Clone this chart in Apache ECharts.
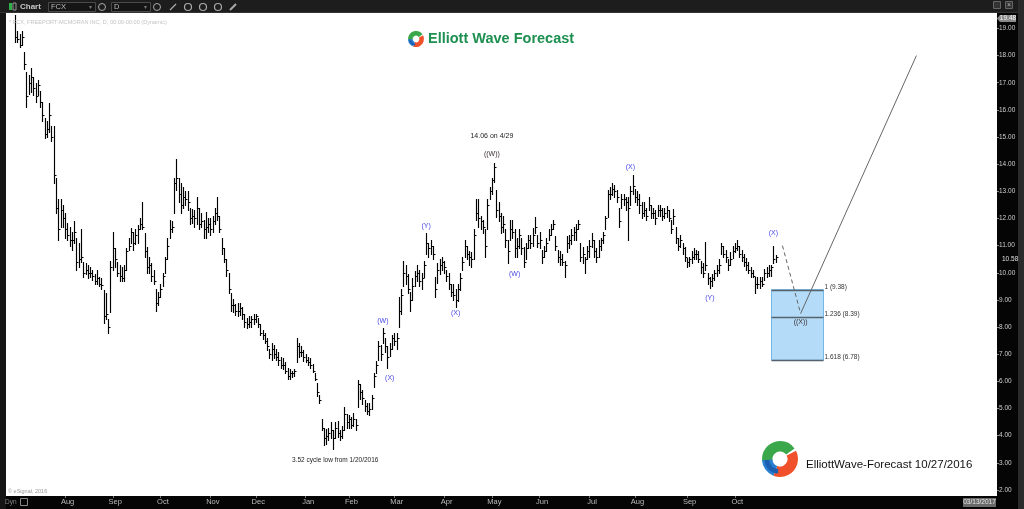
<!DOCTYPE html>
<html><head><meta charset="utf-8">
<script src="https://cdn.jsdelivr.net/npm/echarts@6/dist/echarts.min.js"></script>
<style>html,body{margin:0;padding:0;background:#0a0a0a;}#c{width:1024px;height:509px;}</style>
</head><body><div id="c"></div>
<script>
// ---- data (FCX daily) ----
const START_DATE = '2015-07-01';
const TOTAL_SLOTS = 433;
const HOLIDAYS = ['2015-07-03','2015-09-07','2015-11-26','2015-12-25','2016-01-01','2016-01-18','2016-02-15','2016-03-25','2016-05-30','2016-07-04','2016-09-05','2016-11-24','2016-12-26','2017-01-02','2017-01-16','2017-02-20'];
const MONTHS = ['Jan','Feb','Mar','Apr','May','Jun','Jul','Aug','Sep','Oct','Nov','Dec'];
const Y_TICKS = [2,3,4,5,6,7,8,9,10,11,12,13,14,15,16,17,18,19];

const highs = [
19.5,18.9,18.8,18.9,18.15,17.4,17.3,17.55,17.2,17.0,
17.1,16.7,16.3,15.7,15.6,16.25,15.4,15.4,13.5,12.7,
12.7,12.5,12.2,11.85,11.7,11.5,11.9,11.3,11.1,11.6,
10.4,10.35,10.3,10.2,10.1,9.95,10.1,9.85,9.8,9.35,
9.25,8.3,10.45,11.5,10.9,10.4,10.3,10.2,10.3,10.9,
11.3,11.65,11.5,11.6,11.75,12.0,12.6,11.45,10.95,10.6,
10.35,10.1,9.4,9.3,9.6,10.0,10.6,11.3,11.95,11.9,
13.5,14.2,13.5,13.3,13.15,13.0,13.0,12.4,12.35,12.3,
12.8,12.4,12.2,11.95,12.25,12.0,12.0,12.1,12.4,12.8,
12.1,11.3,10.9,10.5,10.0,9.25,9.05,8.85,8.9,8.9,
8.75,8.5,8.35,8.4,8.4,8.5,8.5,8.35,8.1,7.9,
7.8,7.6,7.2,7.4,7.35,7.2,7.1,6.9,6.85,6.7,
6.5,6.45,6.4,6.45,7.6,7.4,7.3,7.15,7.0,6.9,
6.85,6.65,6.3,5.95,5.5,4.6,4.3,4.25,4.3,4.5,
4.2,4.5,4.55,4.2,4.35,5.05,4.8,4.75,4.7,4.85,
4.6,6.05,5.9,5.7,5.3,5.2,5.2,5.5,6.3,6.75,
7.5,7.35,7.95,7.6,7.3,7.4,7.7,7.8,7.8,9.1,
9.4,10.45,10.3,9.95,9.3,9.8,10.05,10.3,10.1,10.0,
10.45,11.45,11.1,11.2,11.0,9.85,10.36,10.5,10.6,10.45,
10.1,10.0,9.6,9.6,9.4,9.6,10.0,10.6,11.2,11.0,
10.8,10.75,11.6,12.7,12.7,12.1,11.95,11.6,12.7,13.15,
13.5,14.06,13.05,12.6,12.2,12.1,11.6,11.2,11.95,11.95,
11.6,11.3,11.6,11.3,10.95,11.1,11.4,11.4,11.65,12.05,
11.4,11.5,10.85,11.0,11.3,11.6,11.8,11.95,11.35,10.85,
10.8,10.7,10.45,11.35,11.4,11.6,11.7,11.8,11.95,11.1,
10.95,10.6,11.0,11.2,11.45,11.2,10.9,11.2,11.3,11.5,
12.1,13.05,13.15,13.3,13.25,13.05,12.4,12.9,12.9,12.8,
12.8,13.2,13.6,13.1,13.0,12.9,12.6,12.6,12.4,12.8,
12.5,12.4,12.3,12.5,12.5,12.4,12.4,12.45,12.3,11.95,
12.35,11.7,11.3,11.4,11.1,10.95,10.55,10.6,10.8,10.9,
10.85,10.8,10.45,10.35,11.15,10.0,9.85,9.95,10.1,10.3,
10.5,11.1,11.0,10.85,10.5,10.75,11.0,11.1,11.2,11.0,
10.85,10.7,10.55,10.4,10.2,10.1,9.85,9.85,9.85,9.85,
10.15,10.2,10.3,10.3,11.0,10.65];
const lows = [
18.5,18.5,18.3,18.4,17.5,16.1,16.6,16.65,16.55,16.3,
16.55,16.1,15.6,14.95,15.0,15.2,14.85,13.3,12.2,11.2,
11.7,11.7,11.3,11.2,11.0,10.85,11.1,10.1,10.2,10.4,
9.85,9.95,9.8,9.85,9.75,9.6,9.6,9.5,9.4,8.15,
8.3,7.78,8.55,10.1,10.2,9.9,9.7,9.7,9.7,10.1,
10.85,11.1,10.85,11.05,11.1,11.6,11.6,10.6,10.0,10.0,
9.7,9.6,8.6,8.8,9.1,9.5,10.0,10.5,11.3,11.5,
12.2,13.05,12.6,12.2,12.4,12.5,12.3,11.8,11.85,11.7,
11.8,11.6,11.7,11.3,11.3,11.5,11.4,11.5,11.8,11.95,
11.5,10.7,10.4,9.9,9.25,8.6,8.55,8.45,8.4,8.45,
8.3,8.0,7.95,8.0,8.0,8.1,8.2,8.0,7.7,7.55,
7.4,7.15,6.85,6.8,6.85,6.8,6.6,6.5,6.45,6.3,
6.1,6.1,6.15,6.2,6.7,6.9,6.95,6.75,6.7,6.6,
6.5,6.35,6.05,5.45,5.2,4.2,3.65,3.7,3.85,3.9,
3.52,3.9,3.95,3.85,3.9,4.2,4.3,4.3,4.3,4.35,
4.2,5.05,5.35,5.15,4.9,4.8,4.75,5.0,5.8,6.3,
6.8,6.8,7.4,7.1,6.5,6.95,7.2,7.35,7.2,8.0,
8.5,9.5,9.6,9.25,8.6,9.0,9.5,9.7,9.5,9.4,
9.85,10.7,10.6,10.7,10.5,9.1,9.62,9.95,10.1,10.0,
9.7,9.4,9.15,9.0,8.75,8.95,9.35,10.1,10.6,10.5,
10.3,10.2,10.5,11.95,11.7,11.6,11.45,10.6,11.6,12.7,
12.9,13.35,12.05,11.9,11.45,11.5,10.95,10.35,11.2,11.3,
10.6,10.6,10.9,10.7,10.2,10.5,10.9,10.9,11.0,11.45,
10.95,10.9,10.35,10.6,10.8,11.2,11.4,11.6,10.85,10.4,
10.3,10.3,9.85,10.75,10.9,11.05,11.2,11.2,11.6,10.45,
10.35,10.0,10.5,10.6,10.95,10.6,10.4,10.6,10.85,11.1,
11.6,12.05,12.7,12.85,12.8,12.6,11.7,12.4,12.5,12.3,
11.2,12.5,12.9,12.6,12.5,12.2,12.0,12.1,11.95,12.3,
12.0,12.0,11.8,12.1,12.1,11.95,12.0,12.05,11.9,11.45,
11.8,11.1,10.85,10.95,10.7,10.45,10.2,10.25,10.35,10.5,
10.5,10.4,10.0,9.85,10.1,9.6,9.44,9.5,9.75,9.9,
10.0,10.7,10.6,10.4,10.1,10.3,10.55,10.75,10.85,10.6,
10.45,10.25,10.1,10.0,9.85,9.85,9.25,9.45,9.45,9.5,
9.75,9.85,9.9,9.9,10.35,10.4];
const closes = [
18.7,18.6,18.4,18.7,17.7,16.5,17.0,17.2,16.8,16.5,
16.9,16.3,15.8,15.1,15.3,15.8,15.0,13.6,12.4,11.6,
12.3,12.0,11.6,11.4,11.2,11.2,11.5,10.4,10.5,10.6,
10.0,10.1,10.0,10.0,9.9,9.7,9.8,9.6,9.55,8.4,
8.5,8.0,10.2,10.9,10.5,10.0,9.9,9.8,10.1,10.8,
11.0,11.5,11.1,11.4,11.6,11.8,11.7,10.8,10.2,10.3,
9.9,9.7,8.9,9.1,9.4,9.9,10.5,11.0,11.6,11.7,
13.3,13.5,12.9,12.5,12.8,12.7,12.6,12.0,12.1,12.0,
12.4,11.8,11.9,11.6,11.7,11.8,11.6,11.9,12.2,12.1,
11.6,10.9,10.5,10.1,9.4,8.8,8.8,8.6,8.6,8.7,
8.5,8.2,8.1,8.2,8.3,8.3,8.4,8.1,7.8,7.7,
7.5,7.3,7.0,7.2,7.0,6.9,6.8,6.6,6.6,6.4,
6.2,6.3,6.3,6.4,7.3,7.1,7.1,6.9,6.8,6.7,
6.6,6.4,6.1,5.6,5.3,4.3,3.9,4.0,4.1,4.2,
3.9,4.3,4.1,4.0,4.2,4.8,4.5,4.6,4.4,4.6,
4.4,5.9,5.6,5.4,5.1,4.9,5.0,5.4,6.2,6.6,
7.3,7.0,7.8,7.3,6.9,7.2,7.6,7.5,7.6,8.6,
9.2,10.0,9.9,9.4,9.0,9.5,9.9,10.0,9.7,9.8,
10.3,11.1,10.9,11.0,10.7,9.4,10.1,10.3,10.4,10.2,
9.9,9.6,9.3,9.2,9.0,9.4,9.8,10.4,11.0,10.7,
10.6,10.5,11.4,12.2,12.0,11.9,11.7,11.0,12.5,13.0,
13.4,13.9,12.3,12.1,11.7,11.8,11.2,10.8,11.6,11.5,
10.9,11.0,11.4,10.9,10.4,10.9,11.2,11.1,11.4,11.7,
11.1,11.2,10.6,10.8,11.1,11.4,11.6,11.8,11.0,10.6,
10.5,10.4,10.3,11.1,11.2,11.4,11.5,11.6,11.8,10.6,
10.7,10.5,10.8,11.0,11.2,10.8,10.6,11.0,11.2,11.4,
12.0,12.9,12.9,13.1,13.0,12.8,11.9,12.7,12.7,12.6,
12.4,13.0,13.2,12.8,12.7,12.5,12.2,12.3,12.1,12.5,
12.2,12.2,12.0,12.3,12.3,12.1,12.2,12.3,12.0,11.6,
12.1,11.3,11.0,11.2,10.9,10.6,10.4,10.5,10.6,10.7,
10.7,10.5,10.2,10.0,10.3,9.8,9.7,9.8,10.0,10.1,
10.3,11.0,10.7,10.6,10.3,10.5,10.8,10.9,11.0,10.7,
10.6,10.4,10.3,10.1,10.0,9.9,9.6,9.6,9.7,9.6,
10.0,10.0,10.1,10.2,10.5,10.58];

// Fibonacci projection box and path
const FIB_RATIOS = ['1','1.236','1.618'];
const FIB_VALUES = [9.38, 8.39, 6.78];
const BOX_START = 333, BOX_END = 356;
const PATH_DASHED = [[338, 11.0], [346, 8.5]];
const PATH_SOLID = [[346, 8.5], [397, 18.0]];

// wave labels
const ANNOT_TEXT  = ['14.06 on 4/29','((W))','(Y)','(X)','(W)','(W)','(X)','(X)','(Y)','(X)','((X))','3.52 cycle low from 1/20/2016'];
const ANNOT_IDX   = [210, 210, 181, 194, 220, 162, 165, 271, 306, 334, 346, 141];
const ANNOT_VAL   = [15.04, 14.39, 11.72, 8.53, 9.96, 8.22, 6.11, 13.89, 9.06, 11.48, 8.19, 3.10];
const ANNOT_KIND  = ['note','major','wave','wave','wave','wave','wave','wave','wave','wave','major','note'];

// ---- categories: trading days ----
function pad(n){return n<10?'0'+n:''+n;}
const dates = [];
(function(){
  const hol = new Set(HOLIDAYS);
  let d = new Date(START_DATE+'T00:00:00Z');
  while (dates.length < TOTAL_SLOTS) {
    const wd = d.getUTCDay();
    const s = d.getUTCFullYear()+'-'+pad(d.getUTCMonth()+1)+'-'+pad(d.getUTCDate());
    if (wd!==0 && wd!==6 && !hol.has(s)) dates.push(s);
    d = new Date(d.getTime()+86400000);
  }
})();
const monthStart = dates.map((s,i)=> i>0 && i<highs.length && s.slice(5,7)!==dates[i-1].slice(5,7));

const chart = echarts.init(document.getElementById('c'), null, {renderer:'canvas', width:1024, height:509});
const FONT = 'Liberation Sans, Arial, sans-serif';

function ohlcItem(params, api){
  const i = api.value(0);
  const t = api.coord([i, api.value(1)]);
  const b = api.coord([i, api.value(2)]);
  const c = api.coord([i, api.value(3)]);
  const x = Math.round(t[0]) + 0.5;
  const cy = Math.round(c[1]) + 0.5;
  return {type:'group', children:[
    {type:'line', shape:{x1:x, y1:Math.round(t[1]), x2:x, y2:Math.round(b[1])+1}, style:{stroke:'#000', lineWidth:1.15}},
    {type:'line', shape:{x1:x, y1:cy, x2:x+2, y2:cy}, style:{stroke:'#000', lineWidth:1}}
  ]};
}

function boxItem(params, api){
  const tl = api.coord([BOX_START, FIB_VALUES[0]]);
  const br = api.coord([BOX_END, FIB_VALUES[FIB_VALUES.length-1]]);
  const x0 = Math.round(tl[0])+0.5, x1 = Math.round(br[0])+0.5;
  const children = [{type:'rect', shape:{x:x0, y:tl[1], width:x1-x0, height:br[1]-tl[1]},
    style:{fill:'#b4dcf9', stroke:'#74b8ea', lineWidth:1}}];
  FIB_VALUES.forEach((v,k)=>{
    const p = api.coord([BOX_START, v]);
    const y = Math.round(p[1])+0.5;
    children.push({type:'line', shape:{x1:x0, y1:y, x2:x1, y2:y}, style:{stroke:'#56636e', lineWidth:1.3}});
    children.push({type:'text', x:x1+1, y:y-3, style:{text:FIB_RATIOS[k]+' ('+v.toFixed(2)+')', fill:'#333', font:'6.5px '+FONT, align:'left', verticalAlign:'middle'}});
  });
  return {type:'group', children};
}

function annotItem(params, api){
  const k = params.dataIndex;
  const p = api.coord([api.value(0), api.value(1)]);
  const kind = ANNOT_KIND[k];
  const fill = kind==='wave' ? '#4a4ae6' : (kind==='major' ? '#3a3030' : '#222');
  const size = kind==='note' ? (k===0 ? 7 : 6.5) : 7;
  return {type:'text', x:p[0], y:p[1], style:{text:ANNOT_TEXT[k], fill, font:size+'px '+FONT, align:'center', verticalAlign:'middle'}};
}

function logo(cx, cy, r){
  const r0 = r*0.42;
  return [
    {type:'circle', shape:{cx, cy, r:r+0.5}, style:{fill:'#fff'}, z:100},
    {type:'sector', shape:{cx, cy, r, r0, startAngle:Math.PI*0.95, endAngle:Math.PI*1.8}, style:{fill:'#3aa84a'}, z:101},
    {type:'sector', shape:{cx, cy, r, r0, startAngle:Math.PI*1.85, endAngle:Math.PI*2.62}, style:{fill:'#f0512a'}, z:101},
    {type:'sector', shape:{cx, cy, r, r0, startAngle:Math.PI*0.62, endAngle:Math.PI*0.98}, style:{fill:'#2a7fd0'}, z:101},
    {type:'sector', shape:{cx:cx-r*0.1, cy:cy+r*0.05, r:r*0.75, r0:r*0.5, startAngle:Math.PI*0.5, endAngle:Math.PI*1.0}, style:{fill:'#1c5fb0'}, z:102}
  ];
}

const graphics = [
  // frame
  {type:'rect', shape:{x:0,y:0,width:1024,height:13}, style:{fill:'#1d1d1d'}, z:-10},
  {type:'rect', shape:{x:0,y:12,width:1024,height:1}, style:{fill:'#333'}, z:-10},
  {type:'rect', shape:{x:0,y:13,width:6,height:496}, style:{fill:'#151515'}, z:-10},
  {type:'rect', shape:{x:6,y:13,width:8,height:483}, style:{fill:'#fff'}, z:-10},
  {type:'rect', shape:{x:1018,y:0,width:6,height:509}, style:{fill:'#2a2a2a'}, z:-10},
  // toolbar
  {type:'rect', shape:{x:9,y:3,width:3,height:7}, style:{fill:'#2fb04a'}},
  {type:'rect', shape:{x:13,y:3,width:3,height:7}, style:{fill:'none', stroke:'#999', lineWidth:1}},
  {type:'text', x:20, y:7, style:{text:'Chart', fill:'#c8c8c8', font:'bold 8px '+FONT, verticalAlign:'middle'}},
  {type:'rect', shape:{x:48.5,y:2.5,width:47,height:9}, style:{fill:'#151515', stroke:'#4a4a4a'}},
  {type:'text', x:51, y:7, style:{text:'FCX', fill:'#bbb', font:'7.5px '+FONT, verticalAlign:'middle'}},
  {type:'text', x:89, y:7, style:{text:'▾', fill:'#777', font:'6px '+FONT, verticalAlign:'middle'}},
  {type:'circle', shape:{cx:102,cy:7,r:3.5}, style:{fill:'none', stroke:'#aaa', lineWidth:1}},
  {type:'rect', shape:{x:111.5,y:2.5,width:39,height:9}, style:{fill:'#151515', stroke:'#4a4a4a'}},
  {type:'text', x:114, y:7, style:{text:'D', fill:'#bbb', font:'7.5px '+FONT, verticalAlign:'middle'}},
  {type:'text', x:144, y:7, style:{text:'▾', fill:'#777', font:'6px '+FONT, verticalAlign:'middle'}},
  {type:'circle', shape:{cx:157,cy:7,r:3.5}, style:{fill:'none', stroke:'#aaa', lineWidth:1}},
  {type:'line', shape:{x1:170,y1:10,x2:176,y2:4}, style:{stroke:'#aaa', lineWidth:1.2}},
  {type:'circle', shape:{cx:188,cy:7,r:3.5}, style:{fill:'none', stroke:'#aaa', lineWidth:1.2}},
  {type:'circle', shape:{cx:203,cy:7,r:3.5}, style:{fill:'none', stroke:'#aaa', lineWidth:1.2}},
  {type:'circle', shape:{cx:218,cy:7,r:3.5}, style:{fill:'none', stroke:'#aaa', lineWidth:1.2}},
  {type:'line', shape:{x1:230,y1:10,x2:236,y2:4}, style:{stroke:'#aaa', lineWidth:2}},
  {type:'rect', shape:{x:993.5,y:1.5,width:7,height:7}, style:{fill:'#333', stroke:'#666'}},
  {type:'rect', shape:{x:1005.5,y:1.5,width:7,height:7}, style:{fill:'#333', stroke:'#666'}},
  {type:'text', x:1009, y:5, style:{text:'×', fill:'#bbb', font:'7px '+FONT, align:'center', verticalAlign:'middle'}},
  // subtitle
  {type:'text', x:9, y:22, style:{text:'* FCX, FREEPORT-MCMORAN INC, D, 00:00-00:00 (Dynamic)', fill:'#c4c4c4', font:'5.6px '+FONT, verticalAlign:'middle'}, z:50},
  // title logo
  ...logo(416, 39, 8),
  {type:'text', x:428, y:39, style:{text:'Elliott Wave Forecast', fill:'#1d8f50', font:'bold 14.5px '+FONT, verticalAlign:'middle'}, z:100},
  // bottom-right logo & stamp
  ...logo(780, 459, 18),
  {type:'text', x:806, y:465, style:{text:'ElliottWave-Forecast 10/27/2016', fill:'#111', font:'11.5px '+FONT, verticalAlign:'middle'}, z:100},
  // eSignal
  {type:'text', x:8, y:491, style:{text:'© eSignal, 2016', fill:'#999', font:'5.5px '+FONT, verticalAlign:'middle'}, z:50},
  {type:'text', x:5, y:502, style:{text:'Dyn', fill:'#888', font:'6.5px '+FONT, verticalAlign:'middle'}},
  {type:'rect', shape:{x:20.5,y:498.5,width:7,height:7}, style:{fill:'none', stroke:'#888'}},
  // axis extras
  {type:'rect', shape:{x:963,y:498,width:33,height:9}, style:{fill:'#6a6a6a'}},
  {type:'text', x:979.5, y:502.5, style:{text:'03/13/2017', fill:'#e8e8e8', font:'6.5px '+FONT, align:'center', verticalAlign:'middle'}},
  {type:'polygon', shape:{points:[[997,18.5],[1000,15],[1016,15],[1016,22],[1000,22]]}, style:{fill:'#8a8a8a'}},
  {type:'text', x:1008, y:18.5, style:{text:'19.48', fill:'#f4f4f4', font:'6.5px '+FONT, align:'center', verticalAlign:'middle'}},
  {type:'text', x:1002, y:259, style:{text:'10.58', fill:'#e0e0e0', font:'6.5px '+FONT, verticalAlign:'middle'}}
];

const option = {
  animation:false,
  backgroundColor:'#050505',
  grid:{left:14, right:27, top:13, bottom:13, show:true, backgroundColor:'#fff', borderWidth:0},
  xAxis:{
    type:'category', data:dates, boundaryGap:true,
    axisLine:{show:false},
    axisTick:{show:true, alignWithLabel:true, length:2, interval:(i)=>monthStart[i], lineStyle:{color:'#777'}},
    axisLabel:{interval:(i)=>monthStart[i], formatter:(v)=>MONTHS[parseInt(v.slice(5,7),10)-1],
      color:'#bdbdbd', fontSize:7.5, fontFamily:FONT, margin:2, padding:[0,0,0,5]},
    splitLine:{show:false}
  },
  yAxis:{
    type:'value', position:'right', min:1.779, max:19.569, scale:true,
    axisLine:{show:false},
    axisTick:{show:true, customValues:Y_TICKS, length:2, lineStyle:{color:'#888'}},
    axisLabel:{customValues:Y_TICKS, formatter:(v)=>v.toFixed(2), color:'#cfcfcf', fontSize:6.5, fontFamily:FONT, margin:2},
    splitLine:{show:false}
  },
  series:[
    {type:'custom', name:'FCX', renderItem:ohlcItem, silent:true, clip:true,
     encode:{x:0, y:[1,2]},
     data:highs.map((h,i)=>[i, h, lows[i], closes[i]])},
    {type:'custom', name:'box', renderItem:boxItem, silent:true, z:1,
     encode:{x:0, y:1},
     data:[[BOX_START, FIB_VALUES[0]]]},
    {type:'line', name:'dashed', data:PATH_DASHED, symbol:'none', silent:true, z:3,
     lineStyle:{color:'#666', width:1, type:[4,3]}},
    {type:'line', name:'solid', data:PATH_SOLID, symbol:'none', silent:true, z:3,
     lineStyle:{color:'#666', width:1}},
    {type:'custom', name:'labels', renderItem:annotItem, silent:true, z:4,
     encode:{x:0, y:1},
     data:ANNOT_IDX.map((x,k)=>[x, ANNOT_VAL[k]])}
  ],
  graphic:graphics
};
chart.setOption(option);
</script>
</body></html>
